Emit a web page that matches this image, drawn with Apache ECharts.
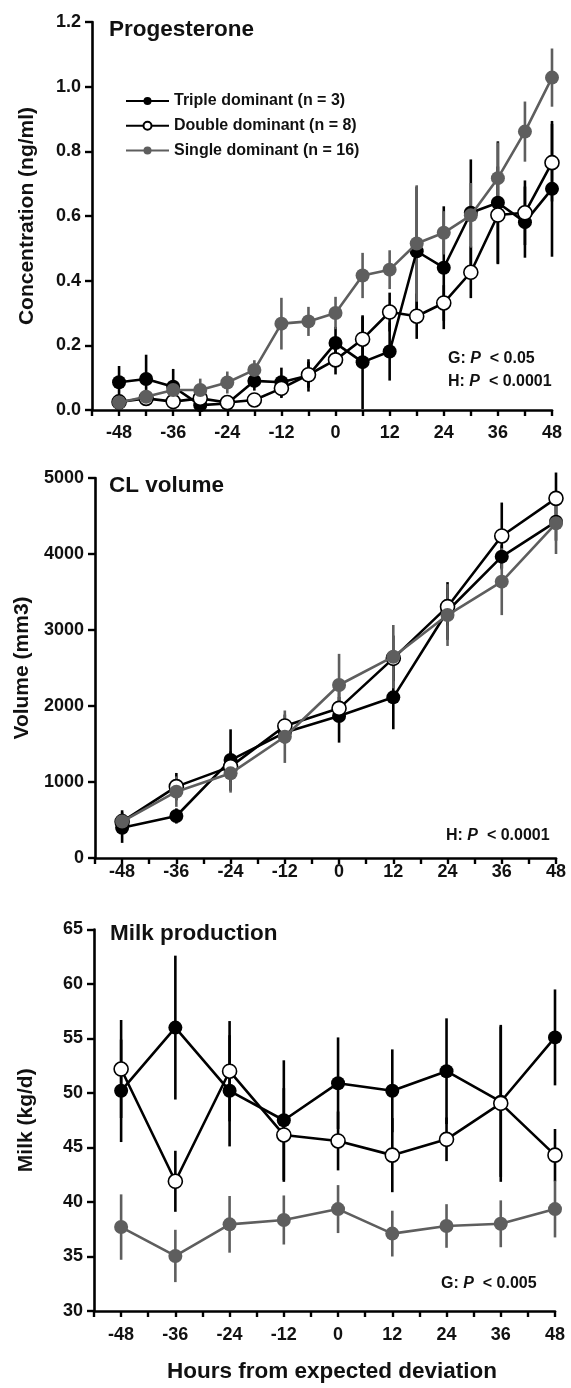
<!DOCTYPE html>
<html>
<head>
<meta charset="utf-8">
<script src="https://cdn.jsdelivr.net/npm/echarts@6/dist/echarts.min.js"></script>
<style>
html,body{margin:0;padding:0;background:#fff;}
#chart{width:571px;height:1388px;}
</style>
</head>
<body>
<div id="chart"></div>
<script>
// ---------- data ----------
const hoursP4 = [-48,-42,-36,-30,-24,-18,-12,-6,0,6,12,18,24,30,36,42,48];
const hours12 = [-48,-36,-24,-12,0,12,24,36,48];
const xTickLabels = [-48,-36,-24,-12,0,12,24,36,48];

const names = ['Triple dominant (n = 3)','Double dominant (n = 8)','Single dominant (n = 16)'];

// Progesterone (ng/ml)
const progTriple   = [0.086,0.096,0.072,0.015,0.020,0.090,0.086,0.107,0.207,0.148,0.181,0.491,0.440,0.610,0.641,0.581,0.684];
const progTripleSE = [0.050,0.075,0.055,0.020,0.015,0.030,0.045,0.050,0.050,0.145,0.090,0.200,0.190,0.165,0.190,0.110,0.210];
const progDouble   = [0.025,0.036,0.026,0.036,0.023,0.031,0.067,0.109,0.155,0.219,0.303,0.290,0.331,0.426,0.603,0.610,0.765];
const progDoubleSE = [0.010,0.010,0.010,0.010,0.010,0.020,0.030,0.040,0.045,0.070,0.060,0.070,0.055,0.080,0.150,0.100,0.120];
const progSingle   = [0.023,0.041,0.062,0.062,0.085,0.124,0.267,0.274,0.300,0.416,0.434,0.515,0.548,0.602,0.717,0.861,1.028];
const progSingleSE = [0.010,0.015,0.030,0.035,0.034,0.030,0.080,0.045,0.050,0.070,0.060,0.180,0.067,0.100,0.110,0.093,0.090];

// CL volume (mm3)
const clTriple   = [399,553,1289,1650,1868,2114,3250,3965,4425];
const clTripleSE = [200,100,404,150,350,420,380,150,250];
const clDouble   = [478,939,1202,1737,1969,2627,3307,4237,4732];
const clDoubleSE = [150,180,200,150,150,300,250,440,340];
const clSingle   = [480,873,1114,1596,2276,2649,3197,3636,4404];
const clSingleSE = [100,200,254,345,410,417,407,440,404];

// Milk (kg/d)
const milkTriple   = [50.2,56.0,50.2,47.5,50.9,50.2,52.0,49.2,55.1];
const milkTripleSE = [4.7,6.6,5.1,5.5,4.2,3.8,4.85,6.9,4.4];
const milkDouble   = [52.2,41.9,52.0,46.15,45.6,44.3,45.75,49.05,44.3];
const milkDoubleSE = [4.5,2.8,4.6,4.3,2.7,3.4,2.0,7.2,2.4];
const milkSingle   = [37.7,35.05,37.95,38.35,39.35,37.1,37.8,38.0,39.35];
const milkSingleSE = [3.0,2.4,2.6,2.25,2.2,2.1,2.0,2.15,2.6];

// ---------- chart ----------
const BLACK = '#000000';
const GREY = '#5e5e5e';
const FONT = 'Liberation Sans, Arial, sans-serif';

const chart = echarts.init(document.getElementById('chart'), null, {renderer:'canvas'});

function pairs(xs, ys){ return xs.map((x,i)=>[x, ys[i]]); }
function errs(xs, ys, se){ return xs.map((x,i)=>[x, ys[i]-se[i], ys[i]+se[i]]); }

function lineSeries(name, xs, ys, idx, kind){
  const col = kind === 'single' ? GREY : BLACK;
  return {
    type:'line', name:name, xAxisIndex:idx, yAxisIndex:idx,
    data: pairs(xs, ys),
    symbol:'circle', symbolSize:14,
    lineStyle:{color:col, width:2.6},
    itemStyle:{color: kind==='double' ? '#ffffff' : col, borderColor: col, borderWidth: kind==='double'?1.6:0, opacity:1},
    emphasis:{disabled:true},
    z: kind==='triple'?3:(kind==='double'?4:5),
    animation:false
  };
}
function errSeries(xs, ys, se, idx, col){
  return {
    type:'custom', name:'err', xAxisIndex:idx, yAxisIndex:idx,
    data: errs(xs, ys, se),
    encode:{x:0, y:[1,2]},
    renderItem: function(params, api){
      const p1 = api.coord([api.value(0), api.value(1)]);
      const p2 = api.coord([api.value(0), api.value(2)]);
      return {type:'line', shape:{x1:p1[0], y1:p1[1], x2:p2[0], y2:p2[1]}, style:{stroke:col, lineWidth:2.6}};
    },
    z:2, silent:true, animation:false
  };
}

function xAxis(idx, margin){
  return {
    type:'value', gridIndex:idx, min:-54, max:48, interval:6,
    axisLine:{show:true, onZero:false, lineStyle:{color:BLACK, width:2.6}},
    axisTick:{show:true, length:6, lineStyle:{color:BLACK, width:2.4}},
    axisLabel:{margin:margin, color:'#111', fontFamily:FONT, fontWeight:'bold', fontSize:18,
      formatter: v => (xTickLabels.indexOf(v) >= 0 ? String(v) : '')},
    splitLine:{show:false}
  };
}
function yAxis(idx, min, max, interval, name, gap, fmt){
  return {
    type:'value', gridIndex:idx, min:min, max:max, interval:interval,
    name:name, nameLocation:'middle', nameGap:gap,
    nameTextStyle:{color:'#111', fontFamily:FONT, fontWeight:'bold', fontSize:21},
    axisLine:{show:true, onZero:false, lineStyle:{color:BLACK, width:2.6}},
    axisTick:{show:true, length:7, lineStyle:{color:BLACK, width:2.4}},
    axisLabel:{margin:11, color:'#111', fontFamily:FONT, fontWeight:'bold', fontSize:18, formatter:fmt},
    splitLine:{show:false}
  };
}

function txt(x, y, text, size){
  return {
    type:'text', left:x, top:y,
    style:{text:text, fill:'#111', font:'bold '+size+'px '+FONT,
      rich:{
        n:{fontFamily:FONT, fontWeight:'bold', fontSize:size, fill:'#111'},
        i:{fontFamily:FONT, fontWeight:'bold', fontStyle:'italic', fontSize:size, fill:'#111'}
      }},
    z:20
  };
}

const option = {
  animation:false,
  backgroundColor:'#ffffff',
  grid:[
    {left:92, right:19, top:22, height:388},
    {left:95, right:15, top:478, height:380},
    {left:94, right:16, top:929.5, height:381.5}
  ],
  xAxis:[ xAxis(0,14), xAxis(1,5), xAxis(2,15) ],
  yAxis:[
    yAxis(0, 0, 1.2, 0.2, 'Concentration (ng/ml)', 54, v => v.toFixed(1)),
    yAxis(1, 0, 5000, 1000, 'Volume (mm3)', 59, v => String(v)),
    yAxis(2, 30, 65, 5, 'Milk (kg/d)', 57, v => String(v))
  ],
  legend:{
    data:names, orient:'vertical', left:120, top:88,
    itemWidth:43, itemHeight:10, itemGap:8.7,
    textStyle:{color:'#111', fontFamily:FONT, fontWeight:'bold', fontSize:16},
    selectedMode:false
  },
  series:[
    errSeries(hoursP4, progTriple, progTripleSE, 0, BLACK),
    errSeries(hoursP4, progDouble, progDoubleSE, 0, BLACK),
    errSeries(hoursP4, progSingle, progSingleSE, 0, GREY),
    lineSeries(names[0], hoursP4, progTriple, 0, 'triple'),
    lineSeries(names[1], hoursP4, progDouble, 0, 'double'),
    lineSeries(names[2], hoursP4, progSingle, 0, 'single'),

    errSeries(hours12, clTriple, clTripleSE, 1, BLACK),
    errSeries(hours12, clDouble, clDoubleSE, 1, BLACK),
    errSeries(hours12, clSingle, clSingleSE, 1, GREY),
    lineSeries(names[0], hours12, clTriple, 1, 'triple'),
    lineSeries(names[1], hours12, clDouble, 1, 'double'),
    lineSeries(names[2], hours12, clSingle, 1, 'single'),

    errSeries(hours12, milkTriple, milkTripleSE, 2, BLACK),
    errSeries(hours12, milkDouble, milkDoubleSE, 2, BLACK),
    errSeries(hours12, milkSingle, milkSingleSE, 2, GREY),
    lineSeries(names[0], hours12, milkTriple, 2, 'triple'),
    lineSeries(names[1], hours12, milkDouble, 2, 'double'),
    lineSeries(names[2], hours12, milkSingle, 2, 'single')
  ],
  graphic:[
    txt(109, 18, 'Progesterone', 22.5),
    txt(109, 474, 'CL volume', 22.5),
    txt(110, 922, 'Milk production', 22.5),
    txt(448, 351, '{n|G: }{i|P}{n|  < 0.05}', 16),
    txt(448, 374, '{n|H: }{i|P}{n|  < 0.0001}', 16),
    txt(446, 828, '{n|H: }{i|P}{n|  < 0.0001}', 16),
    txt(441, 1276, '{n|G: }{i|P}{n|  < 0.005}', 16),
    txt(167, 1360, 'Hours from expected deviation', 22.5)
  ]
};
chart.setOption(option);
</script>
</body>
</html>
